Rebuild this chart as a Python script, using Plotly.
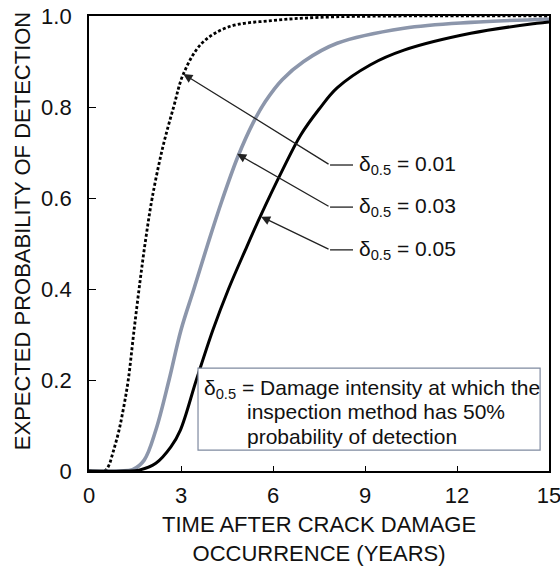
import plotly.graph_objects as go

# ---- data ----
x_tick_vals = [0, 3, 6, 9, 12, 15]
y_tick_vals = [0, 0.2, 0.4, 0.6, 0.8, 1.0]
y_tick_text = ["0", "0.2", "0.4", "0.6", "0.8", "1.0"]

series_names = ["δ0.5 = 0.01", "δ0.5 = 0.03", "δ0.5 = 0.05"]

years_001 = [0, 0.5, 0.63, 0.8, 0.98, 1.13, 1.28, 1.47, 1.67, 1.85, 2.06, 2.4, 2.76, 3.08, 3.68, 4.55, 5.97, 7.5, 10, 15]
pod_001 = [0, 0, 0.01, 0.045, 0.09, 0.14, 0.2, 0.31, 0.42, 0.51, 0.6, 0.71, 0.8, 0.873, 0.94, 0.976, 0.99, 0.997, 1.0, 1.0]

years_003 = [0, 1.0, 1.42, 1.8, 2.18, 2.61, 3.0, 3.42, 3.88, 4.34, 4.85, 5.35, 5.75, 6.3, 7.0, 8.09, 10.27, 12.45, 15]
pod_003 = [0, 0, 0.003, 0.024, 0.09, 0.2, 0.31, 0.4, 0.5, 0.595, 0.69, 0.765, 0.812, 0.86, 0.9, 0.94, 0.973, 0.986, 0.993]

years_005 = [0, 1.2, 1.63, 2.18, 2.67, 2.98, 3.5, 4.04, 4.55, 5.1, 5.59, 6.3, 6.9, 7.5, 8.09, 9.18, 10.27, 12.45, 14.6, 15]
pod_005 = [0, 0, 0.002, 0.017, 0.053, 0.09, 0.2, 0.31, 0.4, 0.486, 0.56, 0.66, 0.738, 0.795, 0.842, 0.893, 0.925, 0.962, 0.984, 0.987]

x_title = "TIME AFTER CRACK DAMAGE<br>OCCURRENCE (YEARS)"
y_title = "EXPECTED PROBABILITY OF DETECTION"

FONT = "Liberation Sans, Arial, sans-serif"
GRAY = "#8c96ab"
TXT = "#111111"

fig = go.Figure()
fig.add_trace(go.Scatter(x=years_001, y=pod_001, mode="lines", name=series_names[0],
                         line=dict(color="black", width=2.8, dash="3px,2.2px", shape="spline", smoothing=1.0)))
fig.add_trace(go.Scatter(x=years_003, y=pod_003, mode="lines", name=series_names[1],
                         line=dict(color=GRAY, width=3.6, shape="spline", smoothing=1.0)))
fig.add_trace(go.Scatter(x=years_005, y=pod_005, mode="lines", name=series_names[2],
                         line=dict(color="black", width=3, shape="spline", smoothing=1.0)))

# callout arrows: tip on curve, knee, horizontal leader, label
callouts = [
    dict(tip=(3.075, 0.8725), knee=(7.86, 0.6725), label="δ<sub>0.5</sub> = 0.01"),
    dict(tip=(4.83, 0.697), knee=(7.86, 0.580), label="δ<sub>0.5</sub> = 0.03"),
    dict(tip=(5.61, 0.559), knee=(7.86, 0.486), label="δ<sub>0.5</sub> = 0.05"),
]
for c in callouts:
    tx, ty = c["tip"]
    kx, ky = c["knee"]
    fig.add_annotation(x=tx, y=ty, ax=kx, ay=ky, xref="x", yref="y", axref="x", ayref="y",
                       text="", showarrow=True, arrowhead=2, arrowsize=1.4, arrowwidth=1.3,
                       arrowcolor="#222222")
    fig.add_shape(type="line", x0=kx, y0=ky, x1=kx + 0.75, y1=ky, xref="x", yref="y",
                  line=dict(color="#222222", width=1.3))
    fig.add_annotation(x=kx + 0.88, y=ky, xref="x", yref="y", xanchor="left", yanchor="middle",
                       text=c["label"], showarrow=False, font=dict(family=FONT, size=21, color=TXT))

# definition box
fig.add_shape(type="rect", x0=3.555, x1=14.71, y0=0.046, y1=0.226, xref="x", yref="y",
              line=dict(color="#7f8aa0", width=1.2), fillcolor="white", layer="above")
box_lines = [
    (3.68, 0.181, "δ<sub>0.5</sub> = Damage intensity at which the"),
    (5.10, 0.130, "inspection method has 50%"),
    (5.10, 0.075, "probability of detection"),
]
for bx, by, txt in box_lines:
    fig.add_annotation(x=bx, y=by, xref="x", yref="y", xanchor="left", yanchor="middle",
                       text=txt, showarrow=False, font=dict(family=FONT, size=21, color=TXT))

# axis titles placed as annotations for exact placement
fig.add_annotation(x=0.5, y=0, xref="paper", yref="paper", xanchor="center", yanchor="middle",
                   yshift=-68, text=x_title, showarrow=False,
                   font=dict(family=FONT, size=22, color=TXT))
fig.add_annotation(x=0, y=0.527, xref="paper", yref="paper", xanchor="center", yanchor="middle",
                   xshift=-67, textangle=-90, text=y_title, showarrow=False,
                   font=dict(family=FONT, size=22, color=TXT))

axis_common = dict(showgrid=False, zeroline=False, showline=True, linecolor="black", linewidth=1.8,
                   mirror=True, ticks="inside", tickcolor="black", tickwidth=1.2, automargin=False,
                   ticklabeloverflow="allow",
                   tickfont=dict(family=FONT, size=22, color=TXT))

fig.update_xaxes(range=[0, 15], tickvals=x_tick_vals, ticklen=5, ticklabelstandoff=4, **axis_common)
fig.update_yaxes(range=[0, 1.0], tickvals=y_tick_vals, ticktext=y_tick_text, ticklen=7,
                 ticklabelstandoff=11, **axis_common)

fig.update_layout(width=560, height=566, margin=dict(l=89, r=11, t=16, b=95),
                  plot_bgcolor="white", paper_bgcolor="white", showlegend=False)

# remove the default page margin so the 560x566 figure fills the window exactly
fig.write_html("out.html", config={"displayModeBar": False},
               post_script="document.body.style.margin='0';document.body.style.overflow='hidden';")
